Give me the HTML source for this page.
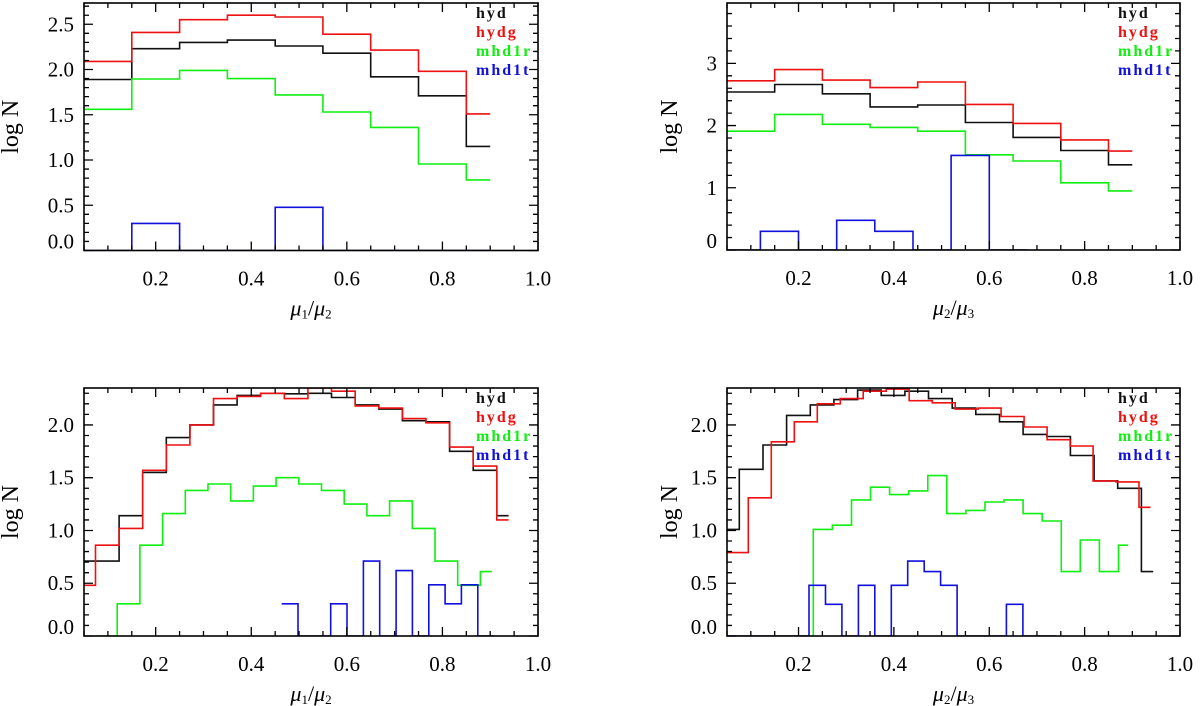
<!DOCTYPE html>
<html><head><meta charset="utf-8"><style>
html,body{margin:0;padding:0;background:#fff;}
svg{display:block;}
text{font-family:"Liberation Serif",serif;}
</style></head><body>
<svg id="fig" width="1200" height="706" viewBox="0 0 1200 706" xmlns="http://www.w3.org/2000/svg"></svg>
<script>
// ---------- data ----------
const seriesNames = ["hyd","hydg","mhd1r","mhd1t"];
const seriesColors = ["#111111","#ee1111","#11ee11","#1111dd"];
const xTickLabels = ["0.2","0.4","0.6","0.8","1.0"];
const yTicksTop1 = ["0.0","0.5","1.0","1.5","2.0","2.5"];
const yTicksTop2 = ["0","1","2","3"];
const yTicksBottom = ["0.0","0.5","1.0","1.5","2.0"];

// Panel A (top-left, mu1/mu2)
const aHyd   = [1.89,2.23,2.30,2.325,2.26,2.18,1.92,1.71,1.15];
const aHydg  = [2.09,2.41,2.55,2.60,2.58,2.39,2.215,1.98,1.51];
const aMhd1r = [1.56,1.895,1.99,1.90,1.72,1.53,1.36,0.956,0.78];
const aMhd1t = [null,0.30,null,null,0.477,null,null,null,null];
// Panel B (top-right, mu2/mu3)
const bHyd   = [2.54,2.66,2.51,2.30,2.33,2.05,1.81,1.60,1.37];
const bHydg  = [2.72,2.90,2.73,2.61,2.70,2.34,2.035,1.77,1.59];
const bMhd1r = [1.91,2.18,2.02,1.97,1.91,1.53,1.43,1.08,0.95];
const bMhd1t = [null,0.30,null,0.477,0.30,null,1.52,null];
// Panel C (bottom-left, mu1/mu2)
const cHyd   = [0.71,0.71,1.14,1.55,1.88,2.00,2.19,2.28,2.30,2.295,2.30,2.26,2.19,2.15,2.04,2.03,1.75,1.57,1.14];
const cHydg  = [0.48,0.86,1.02,1.57,1.81,2.00,2.25,2.27,2.30,2.25,2.35,2.32,2.18,2.16,2.06,2.02,1.79,1.61,1.10];
const cMhd1r = [null,0.305,0.86,1.16,1.38,1.44,1.28,1.42,1.50,1.44,1.38,1.25,1.14,1.28,1.02,0.71,0.48,0.61];
const cMhd1t = [0.305,null,null,0.305,null,0.71,null,0.62,null,0.485,0.305,0.485,null];
// Panel D (bottom-right, mu2/mu3)
const dHyd   = [1.01,1.58,1.81,2.09,2.19,2.24,2.33,2.28,2.32,2.25,2.16,2.10,2.03,1.91,1.89,1.71,1.47,1.40,0.61];
const dHydg  = [0.79,1.31,1.84,2.03,2.20,2.25,2.32,2.34,2.23,2.21,2.15,2.16,2.08,1.98,1.86,1.80,1.47,1.46,1.22];
const dMhd1r = [null,1.01,1.05,1.29,1.41,1.34,1.375,1.52,1.16,1.19,1.27,1.29,1.16,1.09,0.61,0.91,0.61,0.86];
const dMhd1t = [null,null,null,null,null,0.48,0.30,null,0.48,null,0.48,0.71,0.61,0.48,null,null,null,0.30,null,null];

// ---------- drawing ----------
const NS="http://www.w3.org/2000/svg";
const svg=document.getElementById('fig');
function mk(tag,attrs,parent){const e=document.createElementNS(NS,tag);for(const k in attrs)e.setAttribute(k,attrs[k]);(parent||svg).appendChild(e);return e;}

const panels=[
 {id:'a',L:84,R:538,T:3,B:250.5,ymax:2.735,yLabels:yTicksTop1,yStep:0.5,yMinor:0.1,xl:['1','2'],
  series:[{v:aHyd,s:0.05,w:0.1,half:true},{v:aHydg,s:0.05,w:0.1,half:true},{v:aMhd1r,s:0.05,w:0.1,half:true},{v:aMhd1t,s:0.05,w:0.1,half:true}]},
 {id:'b',L:727,R:1180,T:3,B:250,ymax:3.97,yLabels:yTicksTop2,yStep:1,yMinor:0.2,xl:['2','3'],
  series:[{v:bHyd,s:0.05,w:0.1,half:true},{v:bHydg,s:0.05,w:0.1,half:true},{v:bMhd1r,s:0.05,w:0.1,half:true},{v:bMhd1t,s:0.04,w:0.08,half:false}]},
 {id:'c',L:84,R:538,T:388,B:636,ymax:2.35,yLabels:yTicksBottom,yStep:0.5,yMinor:0.1,xl:['1','2'],
  series:[{v:cHyd,s:0.0246,w:0.0494,half:true},{v:cHydg,s:0.0246,w:0.0494,half:true},{v:cMhd1r,s:0.072,w:0.0475,half:true},{v:cMhd1t,s:0.4636,w:0.0342,half:false}]},
 {id:'d',L:727,R:1180,T:388,B:636,ymax:2.35,yLabels:yTicksBottom,yStep:0.5,yMinor:0.1,xl:['2','3'],
  series:[{v:dHyd,s:0.0262,w:0.0496,half:true},{v:dHydg,s:0.0465,w:0.0482,half:true},{v:dMhd1r,s:0.191,w:0.04,half:true},{v:dMhd1t,s:0.0495,w:0.0345,half:false}]}
];

const XMIN=0.05,XMAX=1.0;
panels.forEach(p=>{
  const g=mk('g',{});
  
  
  const xs=v=>p.L+(v-XMIN)/(XMAX-XMIN)*(p.R-p.L);
  const ys=v=>p.B-(v/p.ymax)*(p.B-p.T);
  const clampY=v=>{ if(v===null) return p.B; return Math.max(p.T,Math.min(p.B,ys(v))); };
  const cid='clip-'+p.id;
  const cp=mk('clipPath',{id:cid},g); mk('rect',{x:p.L,y:p.T,width:p.R-p.L,height:p.B-p.T},cp);
  p.series.forEach((sr,si)=>{
    let d='';
    sr.v.forEach((val,i)=>{
      const x0=sr.s+i*sr.w;
      let x1=x0+sr.w;
      if(sr.half && i===sr.v.length-1) x1=x0+sr.w/2;
      const y=clampY(val);
      if(i===0) d+='M'+xs(x0).toFixed(1)+','+y.toFixed(1);
      else d+='L'+xs(x0).toFixed(1)+','+y.toFixed(1);
      d+='L'+xs(x1).toFixed(1)+','+y.toFixed(1);
    });
    if(!sr.half){const lx=sr.s+sr.v.length*sr.w;d+='L'+xs(lx).toFixed(1)+','+p.B;}
    const path=mk('path',{d:d,fill:'none',stroke:seriesColors[si],'stroke-width':1.6,'clip-path':'url(#'+cid+')'},g);
    
    
  });
  const box=mk('rect',{x:p.L,y:p.T,width:p.R-p.L,height:p.B-p.T,fill:'none',stroke:'#000','stroke-width':1.6},g);
  
  
  let tk='';
  for(let k=0;k<=19;k++){
    const v=0.05+k*0.05; if(v>1.0001) break;
    const major=Math.abs(v/0.2-Math.round(v/0.2))<1e-6;
    const len=major?9:5, x=xs(v);
    tk+=`M${x},${p.B}v${-len}M${x},${p.T}v${len}`;
  }
  const nMin=Math.floor(p.ymax/p.yMinor+1e-6);
  for(let k=0;k<=nMin;k++){
    const v=k*p.yMinor;
    const major=Math.abs(v/p.yStep-Math.round(v/p.yStep))<1e-6;
    const len=major?9:5, y=ys(v);
    tk+=`M${p.L},${y}h${len}M${p.R},${y}h${-len}`;
  }
  const tp=mk('path',{d:tk,stroke:'#000','stroke-width':1.3,fill:'none'},g);
  
  
  xTickLabels.forEach((lab,i)=>{
    const t=mk('text',{x:xs(0.2*(i+1)),y:p.B+35,'font-size':21,'text-anchor':'middle',fill:'#000'},g);
    t.textContent=lab;
    
    
  });
  p.yLabels.forEach((lab,i)=>{
    let y=ys(i*p.yStep)+7;
    if(i===0) y=Math.min(y,p.B-2);
    const t=mk('text',{x:p.L-10,y:y,'font-size':21,'text-anchor':'end',fill:'#000'},g);
    t.textContent=lab;
    
    
  });
  const cy=(p.T+p.B)/2, cx=p.L-(p.id==='a'||p.id==='c'?66:50);
  const yt=mk('text',{x:cx,y:cy,'font-size':24,'text-anchor':'middle',transform:`rotate(-90 ${cx} ${cy})`,fill:'#000'},g);
  yt.textContent='log N';
  
  
  const xt=mk('text',{x:(p.L+p.R)/2,y:p.B+65,'font-size':22,'text-anchor':'middle','font-style':'italic',fill:'#000'},g);
  
  
  const m1=mk('tspan',{},xt); m1.textContent='μ';
  const s1=mk('tspan',{'font-size':13,dy:3,'font-style':'normal'},xt); s1.textContent=p.xl[0];
  const sl=mk('tspan',{dy:-3,'font-style':'normal'},xt); sl.textContent='/';
  const m2=mk('tspan',{},xt); m2.textContent='μ';
  const s2=mk('tspan',{'font-size':13,dy:3,'font-style':'normal'},xt); s2.textContent=p.xl[1];
  const lx=p.R-62, baseY=p.T+15;
  seriesNames.forEach((nm,i)=>{
    const t=mk('text',{x:lx,y:baseY+i*19,'font-size':16,'font-weight':'bold','letter-spacing':'2px',fill:seriesColors[i]},g);
    t.textContent=nm;
    
    
  });
});
</script>
</body></html>
